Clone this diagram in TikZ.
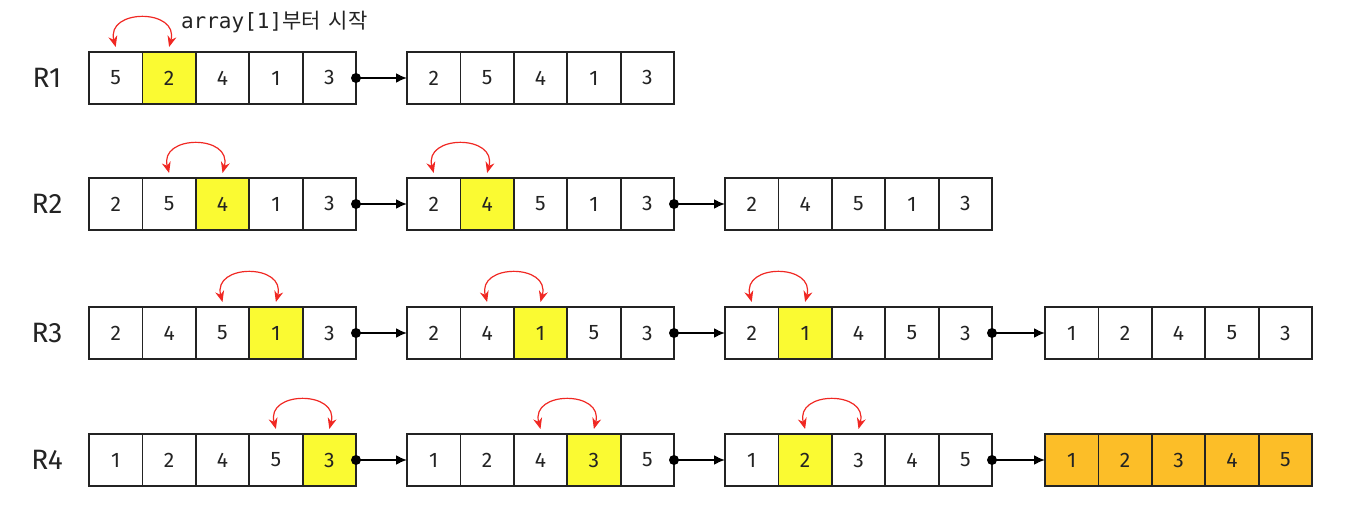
\documentclass[tikz,border=0pt]{standalone}
\usepackage{fontspec}
\setmainfont{Fira Sans}
\newfontfamily\monofont{DejaVu Sans Mono}
\newfontfamily\krfont{Noto Sans CJK KR}
\usetikzlibrary{arrows.meta}
\definecolor{hlyellow}{RGB}{250,250,50}
\definecolor{doneorange}{RGB}{252,190,40}
\definecolor{swapred}{RGB}{240,40,35}
\definecolor{ink}{RGB}{35,35,35}

\tikzset{
  cell/.style={outer sep=0pt,minimum width=26.7pt,minimum height=26pt,
    inner sep=0pt,font=\fontsize{10.5}{12}\selectfont,text=ink},
  plain/.style={fill=white},
  hl/.style={fill=hlyellow},
  done/.style={fill=doneorange},
  rowlab/.style={font=\fontsize{14}{16}\selectfont,text=ink},
  conn/.style={-{Latex[length=5.5pt,width=5pt]},line width=1pt,black},
  swap/.style={{Stealth[length=5.5pt,width=4.5pt]}-{Stealth[length=5.5pt,width=4.5pt]},swapred,line width=0.6pt},
}

% one array of five cells: [base style] name, x, y, values, highlighted index
\newcommand{\cells}[6][plain]{%
  \foreach \v [count=\k from 0] in {#5} {
    \ifnum\k=#6 \def\cstyle{hl}\else\def\cstyle{#1}\fi
    \node[cell,\cstyle] (#2-\k) at ({#3+26.7+53.4*\k},#4) {\v};
  }
  % borders on top, so inner walls keep their full width
  \foreach \k in {0,...,4}
    \draw[ink,line width=0.9pt] (#2-\k.north west) rectangle (#2-\k.south east);}
% swap arc over two cells
\newcommand{\swaparc}[2]{%
  \draw[swap] ([yshift=2.5pt]#1.north) .. controls +(105:40) and +(75:40) .. ([yshift=2.5pt]#2.north);}
% link between two arrays
\newcommand{\link}[2]{%
  \fill (#1.east) circle (5);
  \draw[conn] (#1.east) -- (#2.west);}

\begin{document}
\begin{tikzpicture}[x=0.5pt,y=0.5pt]
  \useasboundingbox (0,0) rectangle (1372,514);

  % row labels
  \node[rowlab] (l1) at (47,436) {R1};
  \node[rowlab] (l2) at (47,310) {R2};
  \node[rowlab] (l3) at (47,181) {R3};
  \node[rowlab] (l4) at (47,54) {R4};

  % R1
  \cells{r1a}{89}{436}{5,2,4,1,3}{1}
  \cells{r1b}{407}{436}{2,5,4,1,3}{-1}
  \swaparc{r1a-0}{r1a-1}
  \link{r1a-4}{r1b-0}
  \node[anchor=west,font=\fontsize{10.5}{12}\selectfont,text=ink] (note) at (174,492)
    {{\monofont array[1]}{\krfont 부터\hspace{4pt}시작}};

  % R2
  \cells{r2a}{89}{310}{2,5,4,1,3}{2}
  \cells{r2b}{407}{310}{2,4,5,1,3}{1}
  \cells{r2c}{725}{310}{2,4,5,1,3}{-1}
  \swaparc{r2a-1}{r2a-2}
  \swaparc{r2b-0}{r2b-1}
  \link{r2a-4}{r2b-0}
  \link{r2b-4}{r2c-0}

  % R3
  \cells{r3a}{89}{181}{2,4,5,1,3}{3}
  \cells{r3b}{407}{181}{2,4,1,5,3}{2}
  \cells{r3c}{725}{181}{2,1,4,5,3}{1}
  \cells{r3d}{1045}{181}{1,2,4,5,3}{-1}
  \swaparc{r3a-2}{r3a-3}
  \swaparc{r3b-1}{r3b-2}
  \swaparc{r3c-0}{r3c-1}
  \link{r3a-4}{r3b-0}
  \link{r3b-4}{r3c-0}
  \link{r3c-4}{r3d-0}

  % R4
  \cells{r4a}{89}{54}{1,2,4,5,3}{4}
  \cells{r4b}{407}{54}{1,2,4,3,5}{3}
  \cells{r4c}{725}{54}{1,2,3,4,5}{1}
  \cells[done]{r4d}{1045}{54}{1,2,3,4,5}{-1}
  \swaparc{r4a-3}{r4a-4}
  \swaparc{r4b-2}{r4b-3}
  \swaparc{r4c-1}{r4c-2}
  \link{r4a-4}{r4b-0}
  \link{r4b-4}{r4c-0}
  \link{r4c-4}{r4d-0}
\end{tikzpicture}
\end{document}
